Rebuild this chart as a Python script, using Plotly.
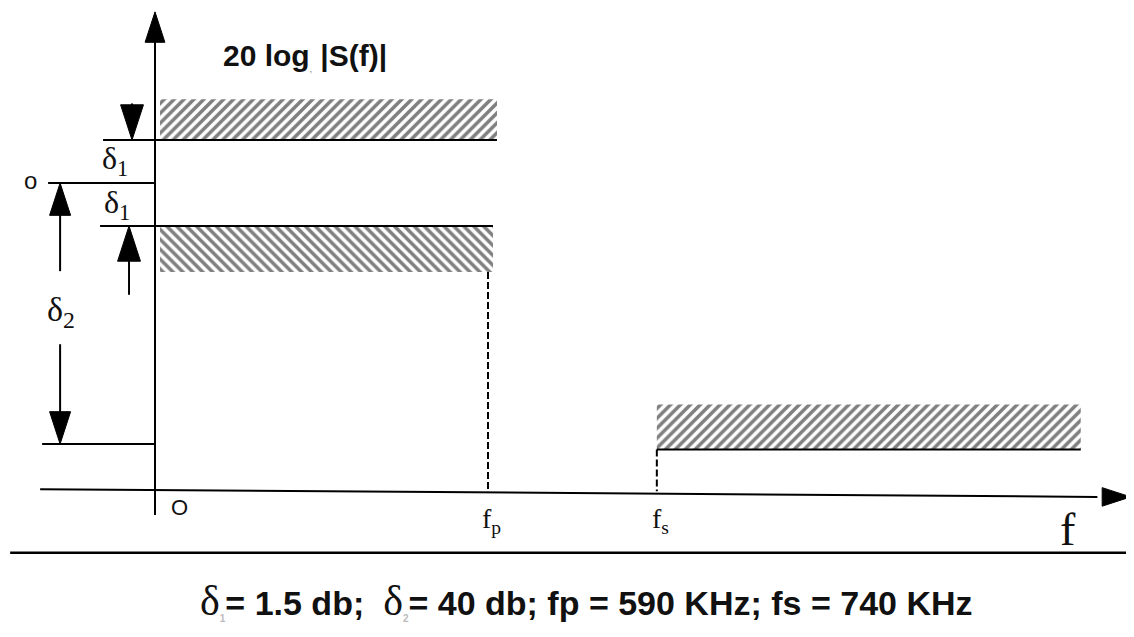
import plotly.graph_objects as go

# ---- schematic data (frequency normalised so that fp = 1, levels in units of delta1) ----
freq_labels = ["O", "f<sub>p</sub>", "f<sub>s</sub>"]
freq_pos = [0.0, 1.0, 1.507]          # 0, fp, fs (schematic positions)
pass_end = 1.02                       # end of pass-band masks
stop_end = 2.78                       # end of stop-band mask
f_axis_left = -0.345
f_axis_tip = 2.93

upper_tol = 1.0        # +delta1
ref_level = 0.0        # 0 dB
lower_tol = -1.0       # -delta1
delta2_level = -6.07   # -delta2 marker
stop_level = -6.2      # stop-band limit
hatch_depth = [0.95, 1.07, 1.05]   # upper, lower, stop masks
y_axis_top = 3.98
y_axis_bottom = -7.72
x_axis_levels = [-7.12, -7.3]      # axis level at left end / at arrow tip (scan is slightly tilted)

params_text = ("<span style='font-family:Liberation Serif;font-weight:normal;font-size:42px'>δ</span>"
               "<sub><span style='font-size:10px;color:#bbb'>1</span></sub>= 1.5 db;  "
               "<span style='font-family:Liberation Serif;font-weight:normal;font-size:42px'>δ</span>"
               "<sub><span style='font-size:10px;color:#bbb'>2</span></sub>= 40 db; fp = 590 KHz; fs = 740 KHz")

# page has an 8px body margin: plot covers pixels 8..1126 x 8..629
PX0, PY0 = 8, 8
W, H = 1118, 621
X_RANGE = [(PX0 - 155) / 333, (PX0 + W - 155) / 333]
Y_RANGE = [(183 - (PY0 + H)) / 43, (183 - PY0) / 43]

fig = go.Figure()

def hatch(x0, x1, y0, y1, shape):
    fig.add_trace(go.Scatter(
        x=[x0, x1, x1, x0, x0], y=[y0, y0, y1, y1, y0],
        mode="lines", line=dict(width=0), fill="toself", fillcolor="white",
        fillpattern=dict(shape=shape, size=7, solidity=0.5, fgcolor="black", bgcolor="white"),
        hoverinfo="skip", showlegend=False))

hatch(0.015, pass_end + 0.007, upper_tol, upper_tol + hatch_depth[0], "/")
hatch(0.015, pass_end - 0.005, lower_tol, lower_tol - hatch_depth[1], "\\")
hatch(freq_pos[2], stop_end, stop_level, stop_level + hatch_depth[2], "/")

# solid lines
sx, sy = [], []
def seg(x0, y0, x1, y1):
    sx.extend([x0, x1, None]); sy.extend([y0, y1, None])

seg(0, y_axis_bottom, 0, y_axis_top - 0.4)                          # y axis
seg(f_axis_left, x_axis_levels[0], f_axis_tip - 0.1, x_axis_levels[1])  # x axis
seg(-0.156, upper_tol, pass_end + 0.007, upper_tol)
seg(-0.321, ref_level, 0, ref_level)
seg(-0.165, lower_tol, pass_end - 0.005, lower_tol)
seg(-0.339, delta2_level, 0, delta2_level)
seg(freq_pos[2], stop_level, stop_end, stop_level)
# dimension arrows shafts
seg(-0.069, 1.85, -0.069, upper_tol + 0.4)
seg(-0.078, -2.6, -0.078, lower_tol - 0.4)
seg(-0.285, ref_level - 0.4, -0.285, -2.05)
seg(-0.285, -3.75, -0.285, delta2_level + 0.4)
fig.add_trace(go.Scatter(x=sx, y=sy, mode="lines", line=dict(color="black", width=2),
                         hoverinfo="skip", showlegend=False))

# dashed lines
dx = [freq_pos[1], freq_pos[1], None, freq_pos[2], freq_pos[2]]
dy = [lower_tol - hatch_depth[1], x_axis_levels[0] - 0.02, None, stop_level, x_axis_levels[0] - 0.05]
fig.add_trace(go.Scatter(x=dx, y=dy, mode="lines", line=dict(color="black", width=2, dash="7px,3px"),
                         hoverinfo="skip", showlegend=False))

# arrow heads
ax_ = [0, f_axis_tip, -0.069, -0.078, -0.285, -0.285]
ay_ = [y_axis_top, x_axis_levels[1], upper_tol, lower_tol, ref_level, delta2_level]
ang = [0, 90, 180, 0, 0, 180]
sz = [32, 30, 37, 37, 34, 34]
fig.add_trace(go.Scatter(x=ax_, y=ay_, mode="markers",
                         marker=dict(symbol="arrow", angle=ang, size=sz, color="black",
                                     opacity=1, line=dict(width=1, color="black")),
                         hoverinfo="skip", showlegend=False))

# separator
fig.add_trace(go.Scatter(x=[-0.435, 2.94], y=[-8.6, -8.6], mode="lines",
                         line=dict(color="black", width=2.5), hoverinfo="skip", showlegend=False))

serif = "Liberation Serif"
def txt(x, y, t, size, fam=serif, color="#111"):
    fig.add_annotation(x=x, y=y, text=t, showarrow=False, xref="x", yref="y",
                       font=dict(size=size, family=fam, color=color), xanchor="center", yanchor="middle")

txt(0.45, 2.95, "<b>20 log<sub><span style='font-size:8px;color:#999'>,</span></sub> |S(f)|</b>", 30, "Liberation Sans")
txt(-0.12, 0.52, "δ<sub>1</sub>", 32)
txt(-0.115, -0.5, "δ<sub>1</sub>", 32)
txt(-0.375, ref_level + 0.05, "o", 24, "Liberation Sans")
txt(-0.282, -3.0, "δ<sub>2</sub>", 34)
txt(0.075, -7.55, freq_labels[0], 22, "Liberation Sans")
txt(freq_pos[1] + 0.01, -7.85, freq_labels[1], 28)
txt(freq_pos[2] + 0.01, -7.85, freq_labels[2], 28)
txt(2.742, -8.05, "f", 46)
txt(1.295, -9.72, "<b>" + params_text + "</b>", 34, "Liberation Sans")

fig.update_layout(
    width=W, height=H, margin=dict(l=0, r=0, t=0, b=0),
    plot_bgcolor="white", paper_bgcolor="white", showlegend=False,
    xaxis=dict(range=X_RANGE, visible=False, fixedrange=True),
    yaxis=dict(range=Y_RANGE, visible=False, fixedrange=True),
)
fig.write_html("out.html")
